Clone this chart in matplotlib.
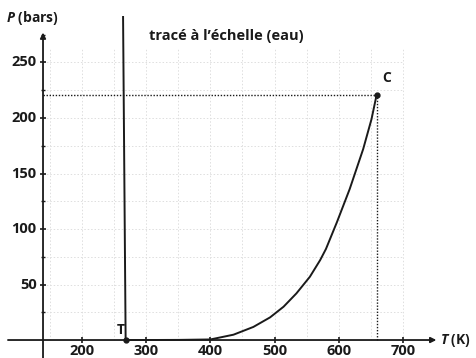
import matplotlib
matplotlib.use("Agg")
import matplotlib.pyplot as plt

plt.rcParams["mathtext.fontset"] = "custom"
plt.rcParams["mathtext.it"] = "Open Sans:italic:bold"
plt.rcParams["mathtext.rm"] = "Open Sans:bold"

# Data
T_vap = [268, 300, 350, 400, 436, 467, 493, 514, 534, 555, 571, 580, 597, 617, 638, 651, 659]
P_vap = [0, 0, 0.1, 0.5, 4.8, 11.8, 20.4, 30, 42, 57, 72, 82, 106, 136, 172, 199, 221]
T_fus = [268, 264]
P_fus = [0, 291]
T_triple, P_triple = 268, 0
T_crit, P_crit = 659, 221
x_ticks = [200, 300, 400, 500, 600, 700]
y_ticks = [50, 100, 150, 200, 250]
y_minor = [25, 75, 125, 175, 225, 275]
x_grid = [150, 200, 250, 300, 350, 400, 450, 500, 550, 600, 650, 700]
y_grid = [25, 50, 75, 100, 125, 150, 175, 200, 225, 250]
T_yaxis = 139.3

fig = plt.figure(figsize=(4.77, 3.58), dpi=100)
ax = fig.add_axes([0, 0, 1, 1])
ax.set_xlim(72.3, 815.3)
ax.set_ylim(-16.2, 306.3)
ax.axis("off")

ink = "#1a1a1a"
font = dict(family=["Open Sans", "DejaVu Sans"], fontweight="bold", color=ink)

# faint grid
for t in x_grid:
    ax.plot([t, t], [0, 262], color="#dedede", lw=0.7, ls=(0, (1.5, 2)), zorder=1)
for p in y_grid:
    ax.plot([T_yaxis, 700], [p, p], color="#dedede", lw=0.7, ls=(0, (1.5, 2)), zorder=1)

# axes with arrows
ax.annotate("", xy=(752, 0), xytext=(84.7, 0),
            arrowprops=dict(arrowstyle="-|>", color=ink, lw=1.3, mutation_scale=8,
                            shrinkA=0, shrinkB=0), zorder=3)
ax.annotate("", xy=(T_yaxis, 277), xytext=(T_yaxis, -16.2),
            arrowprops=dict(arrowstyle="-|>", color=ink, lw=1.3, mutation_scale=8,
                            shrinkA=0, shrinkB=0), zorder=3)

# ticks
for t in x_ticks:
    ax.plot([t], [0], marker="|", ms=4, mew=1.2, color=ink, zorder=3)
    ax.text(t, -9.5, str(t), ha="center", va="center", fontsize=10.5, **font)
for p in y_ticks:
    ax.plot([T_yaxis], [p], marker="_", ms=4, mew=1.2, color=ink, zorder=3)
    ax.text(T_yaxis - 10, p, str(p), ha="right", va="center", fontsize=10.5, **font)
for p in y_minor:
    ax.plot([T_yaxis], [p], marker="_", ms=3, mew=1.0, color=ink, zorder=3)

# dotted guide lines to critical point
ax.plot([T_yaxis, T_crit], [P_crit, P_crit], color=ink, lw=1.0, ls=(0, (1, 1.2)), zorder=2)
ax.plot([T_crit, T_crit], [0, P_crit], color=ink, lw=1.0, ls=(0, (1, 1.2)), zorder=2)

# curves
ax.plot(T_fus, P_fus, color=ink, lw=1.4, zorder=4)
ax.plot(T_vap, P_vap, color=ink, lw=1.4, zorder=4, solid_joinstyle="round")
ax.plot([T_triple, T_crit], [P_triple, P_crit], ls="none", marker="o", ms=3.5,
        color=ink, zorder=5)

# labels
ax.text(T_triple - 8, 9, "T", ha="center", va="center", fontsize=10, **font)
ax.text(T_crit + 16, 236, "C", ha="center", va="center", fontsize=10, **font)
ax.text(82, 290, r"$P$ (bars)", ha="left", va="center", fontsize=10, **font)
ax.text(757, 0, r"$T$ (K)", ha="left", va="center", fontsize=10, **font)
ax.text(425, 274, "tracé à l’échelle (eau)", ha="center", va="center", fontsize=10.5, **font)

fig.savefig("out.png", dpi=100)
